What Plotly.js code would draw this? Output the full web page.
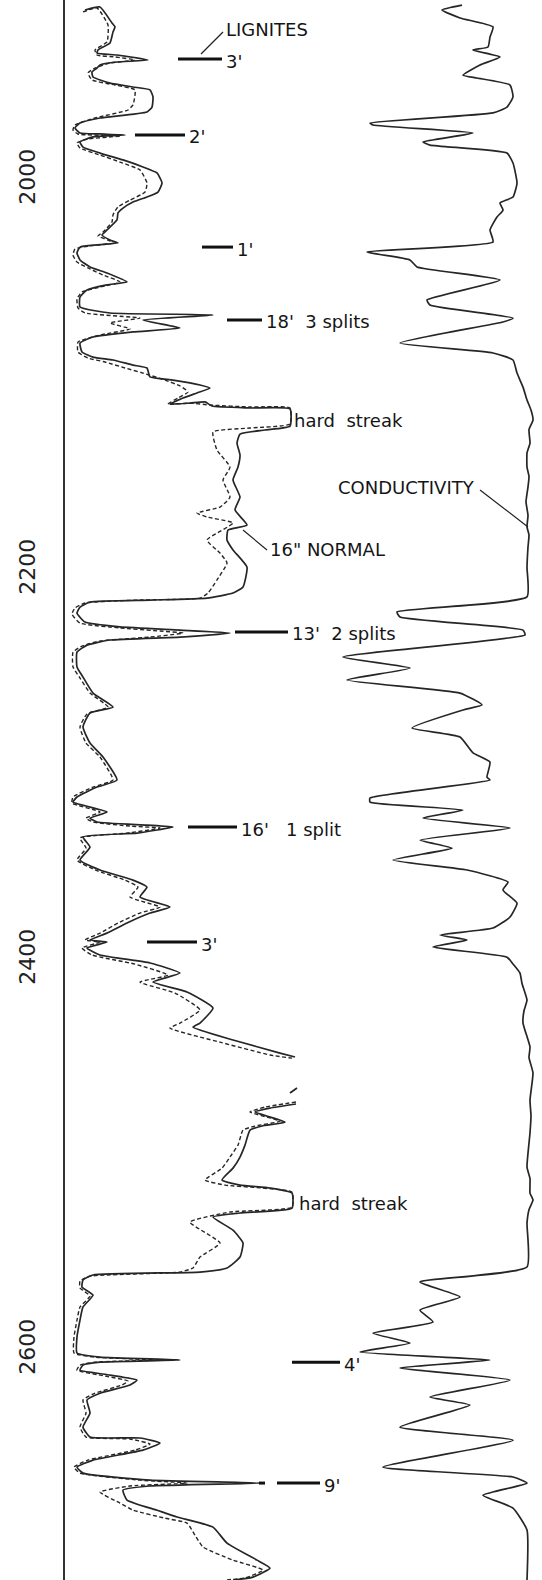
<!DOCTYPE html>
<html>
<head>
<meta charset="utf-8">
<script src="https://cdn.plot.ly/plotly-3.0.1.min.js"></script>
<style>
html,body{margin:0;padding:0;background:#fff;}
#chart{width:542px;height:1580px;}
</style>
</head>
<body>
<div id="chart"></div>
<script>
const normal16 = [[1912.8,85],[1911.3,100],[1919.5,112],[1921.5,115],[1924.1,113],[1929.7,110],[1933.3,98],[1934.9,97],[1935.9,117],[1938.5,148],[1939.5,117],[1941.0,100],[1942.6,97],[1944.6,92],[1947.2,93],[1950.3,110],[1952.3,133],[1953.8,150],[1957.4,153],[1962.6,152],[1965.1,147],[1968.2,100],[1970.8,80],[1973.3,75],[1975.9,80],[1976.4,100],[1976.9,125],[1977.9,93],[1980.5,80],[1983.1,83],[1986.2,100],[1989.7,123],[1993.3,143],[1996.4,157],[2001.5,162],[2006.2,158],[2008.7,147],[2011.3,133],[2014.4,123],[2016.9,118],[2020.5,117],[2025.6,107],[2028.2,102],[2030.8,110],[2032.3,118],[2033.3,97],[2034.4,80],[2037.4,77],[2041.0,80],[2044.6,90],[2047.7,107],[2052.3,127],[2053.8,107],[2056.4,87],[2060.0,80],[2065.1,80],[2068.2,110],[2069.2,213],[2071.8,143],[2075.9,180],[2077.9,133],[2080.5,93],[2083.6,80],[2088.2,82],[2090.8,93],[2092.3,113],[2094.9,133],[2096.4,147],[2101.0,150],[2102.6,173],[2105.1,200],[2106.7,210],[2109.2,197],[2111.8,183],[2114.9,170],[2114.4,190],[2113.8,205],[2115.9,212],[2116.9,250],[2117.4,290],[2126.2,290],[2128.2,265],[2130.3,240],[2134.9,237],[2141.0,240],[2147.2,238],[2153.8,233],[2162.6,240],[2169.2,235],[2176.9,247],[2179.5,228],[2184.6,227],[2189.7,233],[2198.5,247],[2208.7,243],[2211.8,233],[2214.4,207],[2215.4,150],[2216.4,90],[2219.0,80],[2222.1,77],[2226.7,85],[2229.2,120],[2230.8,180],[2232.3,230],[2234.4,180],[2235.9,110],[2238.5,87],[2242.1,77],[2249.7,77],[2254.9,83],[2263.1,93],[2270.3,113],[2273.3,90],[2280.5,83],[2288.7,90],[2295.9,103],[2307.7,117],[2311.3,97],[2316.4,77],[2319.0,73],[2324.1,107],[2327.2,90],[2329.2,97],[2330.8,147],[2331.8,173],[2334.9,137],[2336.9,83],[2342.1,90],[2348.7,80],[2353.8,100],[2359.0,133],[2362.6,147],[2367.7,140],[2372.8,170],[2375.9,150],[2381.0,127],[2386.2,107],[2389.7,90],[2390.8,107],[2393.8,87],[2397.4,100],[2401.5,150],[2406.7,180],[2411.3,153],[2416.4,187],[2424.6,213],[2432.3,200],[2434.4,193],[2441.0,233],[2447.7,280],[2449.7,295],[null,null],[2465.6,297],[2468.2,290],[null,null],[2473.8,296],[2475.9,270],[2477.9,255],[2483.1,285],[2485.1,262],[2487.2,250],[2494.9,245],[2501.0,240],[2506.7,233],[2512.8,222],[2515.4,240],[2516.9,270],[2519.5,292],[2527.2,292],[2529.7,240],[2531.8,213],[2538.5,233],[2545.1,243],[2552.3,240],[2557.9,227],[2560.0,200],[2561.5,93],[2564.1,83],[2567.7,82],[2571.8,93],[2577.9,83],[2584.6,80],[2593.3,77],[2601.5,77],[2603.6,100],[2605.1,180],[2606.2,100],[2607.7,83],[2610.3,80],[2612.8,110],[2615.4,137],[2617.9,130],[2622.1,100],[2625.6,87],[2632.3,90],[2639.5,83],[2644.6,90],[2645.1,140],[2647.7,160],[2651.3,143],[2656.4,93],[2660.0,77],[2663.1,83],[2666.7,150],[2668.2,260],[2669.7,150],[2671.8,123],[2676.9,127],[2682.1,157],[2685.6,177],[2690.8,213],[2699.0,227],[2707.7,257],[2711.8,270],[2716.4,253],[2717.9,233]];

const dashedCurve = [[1913.8,83],[1911.8,97],[1920.5,108],[1929.2,107],[1933.3,95],[1935.9,97],[1936.9,115],[1938.5,135],[1940.0,110],[1942.6,95],[1945.1,88],[1948.7,92],[1951.3,115],[1953.8,135],[1961.5,133],[1964.1,128],[1968.2,95],[1971.8,75],[1974.4,73],[1976.4,78],[1977.4,120],[1979.0,88],[1981.0,77],[1983.6,80],[1987.2,100],[1990.8,120],[1994.9,140],[2001.5,147],[2006.2,145],[2010.3,130],[2013.8,118],[2017.9,113],[2021.5,112],[2026.7,103],[2028.7,98],[2030.8,108],[2032.3,113],[2033.8,90],[2035.4,75],[2038.5,73],[2042.1,77],[2045.1,88],[2048.7,103],[2052.3,120],[2054.9,100],[2057.4,82],[2061.0,77],[2065.6,78],[2068.2,85],[2070.8,140],[2073.3,110],[2076.4,130],[2079.5,100],[2083.1,78],[2088.2,78],[2091.3,88],[2093.3,105],[2096.4,125],[2099.0,143],[2102.6,165],[2105.6,180],[2108.7,188],[2111.8,178],[2114.9,168],[2114.4,190],[2115.4,210],[2116.4,250],[2116.9,290],[2125.1,290],[2127.2,250],[2129.2,213],[2138.5,217],[2147.2,230],[2153.8,223],[2162.6,230],[2167.7,220],[2170.8,197],[2172.8,207],[2175.9,233],[2184.6,207],[2191.3,220],[2196.4,227],[2205.1,217],[2211.8,208],[2214.4,200],[2215.4,140],[2216.9,85],[2219.5,75],[2222.6,72],[2227.2,80],[2229.7,120],[2231.3,160],[2232.3,183],[2234.4,150],[2236.4,100],[2239.0,82],[2242.1,73],[2249.7,73],[2255.4,80],[2263.1,90],[2270.3,108],[2273.8,87],[2280.5,80],[2288.7,86],[2295.9,100],[2307.7,113],[2311.3,93],[2316.4,73],[2319.5,72],[2324.1,100],[2327.2,86],[2329.2,93],[2331.3,130],[2332.3,160],[2334.9,127],[2337.4,80],[2342.6,86],[2348.7,77],[2353.8,95],[2359.0,125],[2362.6,138],[2367.7,130],[2372.8,160],[2375.9,140],[2381.0,118],[2386.2,100],[2389.7,85],[2390.8,100],[2393.8,82],[2397.4,92],[2402.1,135],[2407.7,168],[2411.3,140],[2416.9,175],[2425.6,200],[2432.3,180],[2434.9,170],[2442.1,220],[2448.7,270],[2450.3,292],[null,null],[2472.8,296],[2475.4,265],[2477.9,250],[2482.6,280],[2485.1,255],[2487.2,243],[2494.9,238],[2501.0,230],[2506.7,222],[2512.8,205],[2515.4,225],[2516.9,262],[2519.0,292],[2526.7,292],[2529.2,230],[2534.4,190],[2545.1,220],[2552.3,200],[2557.9,193],[2560.0,180],[2562.1,90],[2564.6,80],[2568.2,80],[2572.3,90],[2577.9,80],[2584.6,77],[2593.3,74],[2601.5,74],[2603.6,95],[2605.1,155],[2606.2,95],[2607.7,80],[2610.3,77],[2613.3,105],[2615.9,128],[2617.9,122],[2622.1,95],[2625.6,83],[2632.3,86],[2639.5,80],[2644.6,86],[2645.6,130],[2648.2,150],[2651.3,135],[2656.4,88],[2660.0,74],[2663.1,80],[2666.7,140],[2668.2,187],[2669.7,130],[2672.8,100],[2678.5,120],[2682.1,133],[2686.2,165],[2688.7,187],[2694.9,195],[2701.0,203],[2707.7,233],[2712.8,263],[2716.9,245],[2717.9,225]];

const conductivity = [[1910.3,462],[1912.8,442],[1916.9,460],[1921.5,493],[1926.7,490],[1931.8,488],[1933.3,473],[1936.9,500],[1941.0,480],[1946.2,463],[1947.7,477],[1951.3,510],[1957.4,513],[1962.6,507],[1965.6,493],[1970.8,370],[1971.8,373],[1975.9,473],[1980.5,423],[1982.1,430],[1986.2,507],[1991.3,513],[2001.5,517],[2008.7,513],[2011.8,500],[2015.4,503],[2019.0,497],[2025.6,490],[2031.8,493],[2036.9,367],[2041.0,410],[2044.6,417],[2051.3,500],[2061.5,427],[2064.1,430],[2070.8,513],[2072.8,503],[2083.6,400],[2088.7,493],[2092.3,513],[2099.0,517],[2106.2,523],[2112.8,527],[2118.0,531],[2123.1,533],[2128.0,529],[2134.9,530],[2140.0,527],[2147.2,527],[2152.0,529],[2157.4,528],[2165.0,526],[2172.0,528],[2177.9,527],[2182.0,529],[2188.2,528],[2198.5,527],[2213.8,527],[2221.5,397],[2224.1,400],[2230.8,523],[2233.3,525],[2244.6,343],[2250.3,410],[2256.4,347],[2263.1,460],[2269.2,482],[2271.8,463],[2281.0,412],[2285.6,460],[2293.8,473],[2298.5,490],[2306.2,487],[2307.7,490],[2316.9,370],[2319.0,370],[2323.1,463],[2327.2,423],[2332.3,510],[2338.5,420],[2342.6,452],[2348.7,393],[2353.8,467],[2360.0,508],[2364.1,503],[2370.8,517],[2377.9,510],[2383.6,493],[2387.2,440],[2389.7,467],[2393.3,433],[2398.5,507],[2402.0,513],[2406.7,520],[2412.0,522],[2420.5,527],[2426.0,524],[2432.3,523],[2444.6,530],[2450.0,529],[2457.9,533],[2471.8,530],[2480.0,531],[2488.7,530],[2506.2,527],[2512.0,530],[2519.5,530],[2523.1,533],[2528.0,529],[2534.9,527],[2557.4,527],[2565.1,420],[2572.8,460],[2579.5,420],[2585.6,433],[2591.3,373],[2596.4,410],[2601.0,360],[2605.1,490],[2609.2,400],[2615.4,510],[2624.1,430],[2628.2,470],[2639.5,400],[2646.2,513],[2660.0,383],[2665.1,513],[2668.2,527],[2674.4,483],[2681.0,513],[2692.3,527],[2717.9,527]];

// Depth axis ticks
const tickDepths = [2000, 2200, 2400, 2600];
const tickLabels = ["2000", "2200", "2400", "2600"];

// Lignite beds: depth and thickness label
const ligniteDepths = [1938.0, 1976.9, 2034.4, 2071.8, 2231.8, 2331.8, 2390.8, 2606.2, 2668.2];
const ligniteLabels = ["3'", "2'", "1'", "18'  3 splits", "13'  2 splits", "16'   1 split", "3'", "4'", "9'"];

// Hard streaks (depth of label)
const hardStreakDepths = [2123.1, 2524.6];

const depthOf = a => a.map(p => p[0]);
const valOf = a => a.map(p => p[1]);

const lineColor = '#262626';
const traces = [
  {x: valOf(dashedCurve), y: depthOf(dashedCurve), mode: 'lines', type: 'scatter',
   line: {color: lineColor, width: 1.4, dash: '4px,2.5px', shape: 'spline', smoothing: 0.45}, hoverinfo: 'skip'},
  {x: valOf(normal16), y: depthOf(normal16), mode: 'lines', type: 'scatter',
   line: {color: lineColor, width: 1.7, shape: 'spline', smoothing: 0.45}, hoverinfo: 'skip'},
  {x: valOf(conductivity), y: depthOf(conductivity), mode: 'lines', type: 'scatter',
   line: {color: lineColor, width: 1.7, shape: 'spline', smoothing: 0.45}, hoverinfo: 'skip'}
];

// marker dash x extents (chart units)
const markerX = [[178,222],[135,185],[202,233],[227,262],[235,288],[188,237],[147,197],[292,340],[277,320]];
const shapes = [];
const annotations = [];
const font = {family: 'DejaVu Sans, Liberation Sans, sans-serif', size: 18, color: '#151515'};
ligniteDepths.forEach((d, i) => {
  shapes.push({type: 'line', xref: 'x', yref: 'y', x0: markerX[i][0], x1: markerX[i][1], y0: d, y1: d,
    line: {color: '#111', width: 3}});
  annotations.push({x: markerX[i][1] + 2, y: d + 1, xref: 'x', yref: 'y', text: ligniteLabels[i],
    showarrow: false, xanchor: 'left', yanchor: 'middle', font: font});
});
// small extra dash before 9'
shapes.push({type: 'line', xref: 'x', yref: 'y', x0: 259, x1: 265, y0: ligniteDepths[8], y1: ligniteDepths[8], line: {color: '#111', width: 3}});

// leader lines
const leaders = [
  [[201,1935.4],[223,1924.1]],
  [[480,2159.0],[528,2177.9]],
  [[243,2179.5],[267,2189.7]]
];
leaders.forEach(l => shapes.push({type: 'line', xref: 'x', yref: 'y', x0: l[0][0], y0: l[0][1], x1: l[1][0], y1: l[1][1],
  line: {color: '#222', width: 1.2}}));

annotations.push({x: 224, y: 1922.6, text: 'LIGNITES', showarrow: false, xanchor: 'left', yanchor: 'middle', font: font});
annotations.push({x: 336, y: 2157.9, text: 'CONDUCTIVITY', showarrow: false, xanchor: 'left', yanchor: 'middle', font: font});
annotations.push({x: 268, y: 2189.7, text: '16" NORMAL', showarrow: false, xanchor: 'left', yanchor: 'middle', font: font});
annotations.push({x: 292, y: hardStreakDepths[0], text: 'hard  streak', showarrow: false, xanchor: 'left', yanchor: 'middle', font: font});
annotations.push({x: 297, y: hardStreakDepths[1], text: 'hard  streak', showarrow: false, xanchor: 'left', yanchor: 'middle', font: font});

const layout = {
  width: 542, height: 1580,
  margin: {l: 0, r: 0, t: 0, b: 0, pad: 0},
  paper_bgcolor: '#ffffff', plot_bgcolor: '#ffffff',
  showlegend: false,
  xaxis: {range: [0, 542], visible: false, fixedrange: true},
  yaxis: {range: [2717.9, 1907.7], anchor: 'free', position: 63/542, side: 'left',
    showline: true, linecolor: '#333', linewidth: 1.5, showgrid: false, zeroline: false,
    ticks: '', tickmode: 'array', tickvals: tickDepths, ticktext: tickLabels, tickangle: -90,
    ticklabelstandoff: 19, automargin: false,
    tickfont: {family: 'DejaVu Sans, Liberation Sans, sans-serif', size: 22, color: '#222'}},
  shapes: shapes,
  annotations: annotations
};

Plotly.newPlot('chart', traces, layout, {staticPlot: true, displayModeBar: false});
</script>
</body>
</html>
